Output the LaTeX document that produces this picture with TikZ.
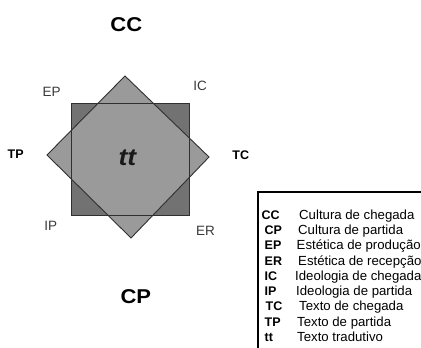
\documentclass[tikz,border=0pt]{standalone}
\usepackage{fontspec}
\setmainfont{Liberation Sans}
\usepackage{graphicx}
\newcommand{\stretchx}[2]{\scalebox{#1}[1]{#2}}
\definecolor{sqgray}{HTML}{727272}
\definecolor{dmgray}{HTML}{9A9A9A}
\definecolor{edgegray}{HTML}{303030}
\definecolor{lblgray}{HTML}{3A3A3A}
\tikzset{
  shapeedge/.style={draw=edgegray, line width=0.9pt, line join=miter},
  biglabel/.style={inner sep=0pt, anchor=base, text=black, font=\fontsize{20}{24}\selectfont\bfseries},
  cornerlabel/.style={inner sep=0pt, anchor=base, text=lblgray, font=\fontsize{13.5}{15}\selectfont},
  sidelabel/.style={inner sep=0pt, anchor=base, text=black, font=\fontsize{12.5}{15}\selectfont\bfseries},
  centerlabel/.style={inner sep=0pt, anchor=base, text=black!90, font=\fontsize{24}{28}\selectfont\bfseries\itshape},
  abbr/.style={inner sep=0pt, anchor=base west, text=black, font=\fontsize{12.5}{14}\selectfont\bfseries},
  desc/.style={inner sep=0pt, anchor=base west, text=black, font=\fontsize{13.2}{15}\selectfont},
  legendbox/.style={draw=black, line width=1.5pt}
}
\begin{document}
\begin{tikzpicture}[x=1pt,y=-1pt]
\useasboundingbox (0,0) rectangle (421,348);
\clip (0,0) rectangle (421,348);
\fill[white] (0,0) rectangle (421,348);

% shapes
\fill[sqgray] (71,103) rectangle (189,215);
\fill[dmgray] (125,76) -- (209,157) -- (131,238) -- (47,155) -- cycle;
\draw[shapeedge] (71,103) rectangle (189,215);
\draw[shapeedge] (125,76) -- (209,157) -- (131,238) -- (47,155) -- cycle;

% labels
\node[biglabel] (cc) at (126.3,31) {\stretchx{1.1}{CC}};
\node[biglabel] (cp) at (135.8,303) {\stretchx{1.1}{CP}};
\node[cornerlabel] (ep) at (51.7,96.7) {EP};
\node[cornerlabel] (ic) at (200,90.7) {IC};
\node[cornerlabel] (ip) at (50.8,230) {IP};
\node[cornerlabel] (er) at (205.6,235.5) {ER};
\node[sidelabel] (tp) at (15.7,158.3) {TP};
\node[sidelabel] (tc) at (240.8,159.3) {TC};
\node[centerlabel] (tt) at (127.3,165) {\stretchx{1.1}{tt}};

% legend
\draw[legendbox] (258,192) rectangle (440,370);
\node[abbr] (l1) at (261.5,219) {CC};
\node[abbr] (l2) at (264.5,234.3) {CP};
\node[abbr] (l3) at (264.5,249.6) {EP};
\node[abbr] (l4) at (264.5,265) {ER};
\node[abbr] (l5) at (264.5,280.2) {IC};
\node[abbr] (l6) at (264.5,295.5) {IP};
\node[abbr] (l7) at (265.5,310.8) {TC};
\node[abbr] (l8) at (264.5,326) {TP};
\node[abbr] (l9) at (264.5,341.5) {tt};
\node[desc] (d1) at (299,219) {Cultura de chegada};
\node[desc] (d2) at (298,234.3) {Cultura de partida};
\node[desc] (d3) at (296.5,249.6) {Estética de produção};
\node[desc] (d4) at (298,265) {Estética de recepção};
\node[desc] (d5) at (295,280.2) {Ideologia de chegada};
\node[desc] (d6) at (296,295.5) {Ideologia de partida};
\node[desc] (d7) at (299,310.8) {Texto de chegada};
\node[desc] (d8) at (297,326) {Texto de partida};
\node[desc] (d9) at (297,341.5) {Texto tradutivo};
\end{tikzpicture}
\end{document}
